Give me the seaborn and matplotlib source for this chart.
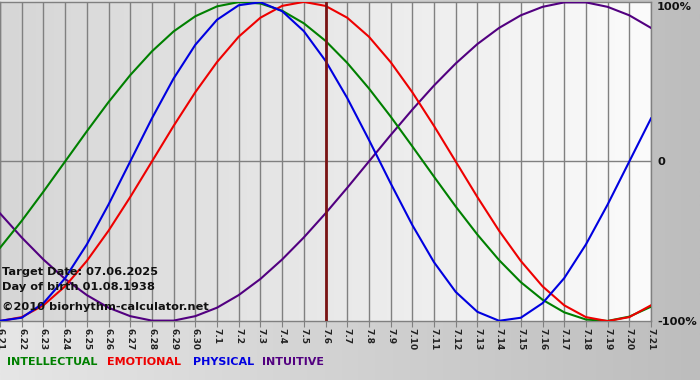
import numpy as np
import pandas as pd
import matplotlib
matplotlib.use("Agg")
import matplotlib.pyplot as plt
import seaborn as sns
from matplotlib.colors import LinearSegmentedColormap

# daily values, 6.21 .. 7.21
days = ["6.21", "6.22", "6.23", "6.24", "6.25", "6.26", "6.27", "6.28", "6.29", "6.30",
        "7.1", "7.2", "7.3", "7.4", "7.5", "7.6", "7.7", "7.8", "7.9", "7.10",
        "7.11", "7.12", "7.13", "7.14", "7.15", "7.16", "7.17", "7.18", "7.19", "7.20", "7.21"]
intellectual = [-0.541, -0.372, -0.189, 0.0, 0.189, 0.372, 0.541, 0.690, 0.815, 0.910,
                0.972, 0.999, 0.990, 0.945, 0.866, 0.756, 0.618, 0.458, 0.282, 0.095,
                -0.095, -0.282, -0.458, -0.618, -0.756, -0.866, -0.945, -0.990, -0.999, -0.972, -0.910]
emotional = [-1.0, -0.975, -0.901, -0.782, -0.623, -0.434, -0.223, 0.0, 0.223, 0.434,
             0.623, 0.782, 0.901, 0.975, 1.0, 0.975, 0.901, 0.782, 0.623, 0.434,
             0.223, 0.0, -0.223, -0.434, -0.623, -0.782, -0.901, -0.975, -1.0, -0.975, -0.901]
physical = [-0.998, -0.979, -0.888, -0.731, -0.520, -0.270, 0.0, 0.270, 0.520, 0.731,
            0.888, 0.979, 0.998, 0.942, 0.817, 0.631, 0.398, 0.136, -0.136, -0.398,
            -0.631, -0.817, -0.942, -0.998, -0.979, -0.888, -0.731, -0.520, -0.270, 0.0, 0.270]
intuitive = [-0.325, -0.476, -0.614, -0.736, -0.837, -0.916, -0.969, -0.997, -0.997, -0.969,
             -0.916, -0.837, -0.736, -0.614, -0.476, -0.325, -0.165, 0.0, 0.165, 0.325,
             0.476, 0.614, 0.736, 0.837, 0.916, 0.969, 0.997, 0.997, 0.969, 0.916, 0.837]

cycles = ["INTUITIVE", "INTELLECTUAL", "EMOTIONAL", "PHYSICAL"]
colors = {"INTELLECTUAL": "#008000", "EMOTIONAL": "#ee0000",
          "PHYSICAL": "#0000e0", "INTUITIVE": "#520080"}
legend_order = ["INTELLECTUAL", "EMOTIONAL", "PHYSICAL", "INTUITIVE"]
legend_x = [7, 107, 193, 262]
target_day = "7.6"
info_lines = ["Target Date: 07.06.2025", "Day of birth 01.08.1938", "\u00a92010 biorhythm-calculator.net"]
info_y = [272, 287, 307]

df = pd.DataFrame({"day": range(len(days)), "INTELLECTUAL": intellectual,
                   "EMOTIONAL": emotional, "PHYSICAL": physical, "INTUITIVE": intuitive})
df = df.melt(id_vars="day", var_name="cycle", value_name="value")

fig = plt.figure(figsize=(7, 3.8), dpi=100)

# figure background gradient
bg = fig.add_axes([0, 0, 1, 1], zorder=-10)
bg_cmap = LinearSegmentedColormap.from_list("bg", ["#e6e6e6", "#bdbdbd"])
bg.imshow(np.linspace(0, 1, 256)[None, :], cmap=bg_cmap, aspect="auto", extent=[0, 1, 0, 1])
bg.axis("off")

ax = fig.add_axes([0, 0.155, 0.93, 0.84])
plot_cmap = LinearSegmentedColormap.from_list("plot", ["#d6d6d6", "#fbfbfb"])
ax.imshow(np.linspace(0, 1, 256)[None, :], cmap=plot_cmap, aspect="auto",
          extent=[0, len(days) - 1, -1, 1], zorder=0)

for d in range(len(days)):
    ax.axvline(d, color="#808080", lw=1, zorder=1)
ax.axhline(0, color="#808080", lw=1, zorder=1)

sns.lineplot(data=df, x="day", y="value", hue="cycle", hue_order=cycles,
             palette=colors, lw=1.5, legend=False, ax=ax, zorder=3)
ax.axvline(days.index(target_day), color="#7a1414", lw=2, zorder=4)

ax.set_xlim(0, len(days) - 1)
ax.set_ylim(-1, 1)
ax.set_xlabel("")
ax.set_ylabel("")
ax.set_yticks([])
ax.set_xticks(range(len(days)))
ax.set_xticklabels(days, rotation=-90, fontsize=6.5, fontweight="bold", color="#222222")
ax.tick_params(axis="x", length=4, color="#808080", pad=1)
for s in ax.spines.values():
    s.set_color("#808080")
    s.set_linewidth(1)

# right-side scale labels
for txt, y in [("100%", 7), ("0", 162), ("-100%", 322)]:
    fig.text(657 / 700, 1 - y / 380, txt, fontsize=8.2, fontweight="bold",
             color="#111111", va="center", ha="left")

for txt, y in zip(info_lines, info_y):
    fig.text(2 / 700, 1 - y / 380, txt, fontsize=8.2, fontweight="bold",
             color="#111111", va="center", ha="left", zorder=10)

for name, x in zip(legend_order, legend_x):
    fig.text(x / 700, 1 - 362 / 380, name, fontsize=8, fontweight="bold",
             color=colors[name], va="center", ha="left")

fig.savefig("out.png", dpi=100)
